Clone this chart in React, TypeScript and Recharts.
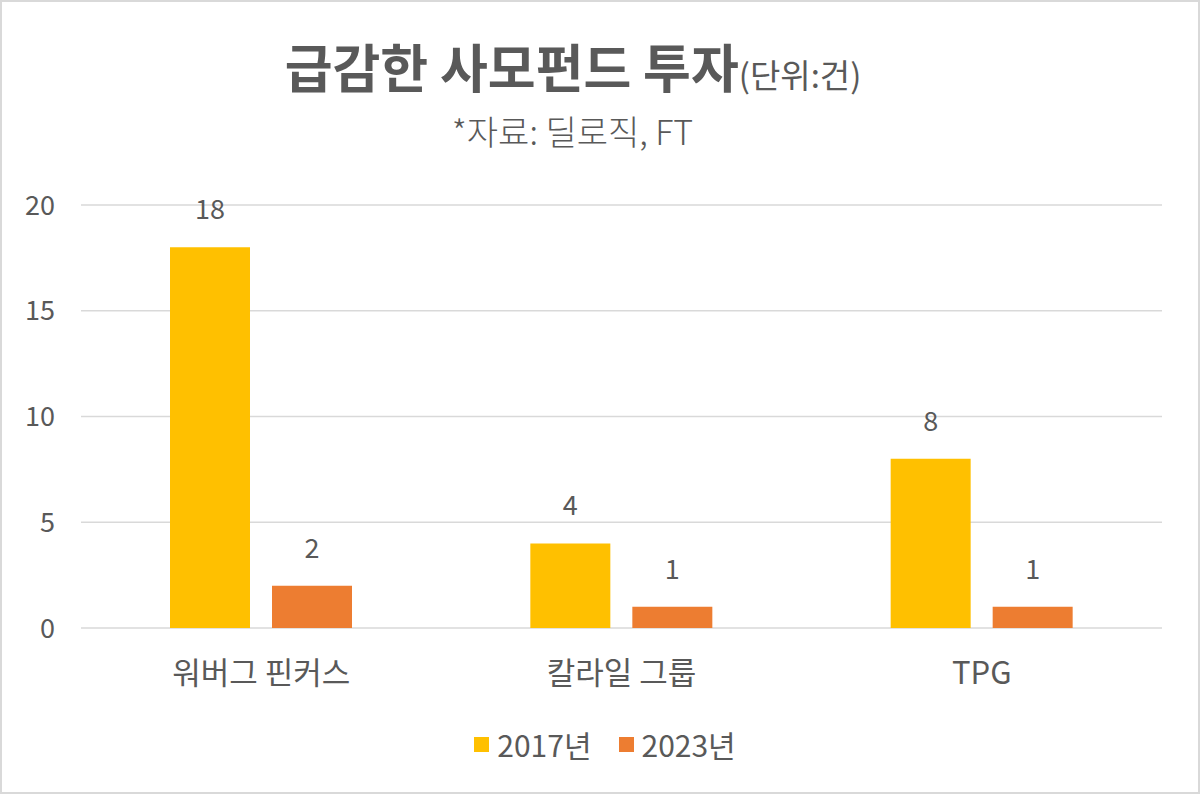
import { Bar, BarChart, CartesianGrid, LabelList, XAxis, YAxis } from "recharts";

const categories = ["워버그 핀커스", "칼라일 그룹", "TPG"];
const deals2017 = [18, 4, 8];
const deals2023 = [2, 1, 1];
const yTicks = [0, 5, 10, 15, 20];

const SERIES = [
  { key: "y2017", name: "2017년", color: "#FFC000" },
  { key: "y2023", name: "2023년", color: "#ED7D31" },
];

const INK = "#595959";
const GRID = "#D9D9D9";
const FONT = '"Noto Sans CJK KR", "Noto Sans", sans-serif';

const data = categories.map((name, i) => ({
  name,
  y2017: deals2017[i],
  y2023: deals2023[i],
}));

function LegendBox() {
  return (
    <div style={{ display: "flex", justifyContent: "center", alignItems: "center", fontFamily: FONT }}>
      {SERIES.map((s, i) => (
        <div key={s.key} style={{ display: "flex", alignItems: "center", marginLeft: i ? 27 : 0 }}>
          <span style={{ width: 15, height: 15, background: s.color, display: "inline-block", marginRight: 8 }} />
          <span style={{ fontSize: 30, color: INK, lineHeight: 1 }}>{s.name}</span>
        </div>
      ))}
    </div>
  );
}

export default function App() {
  return (
    <div style={{ position: "absolute", left: 0, top: 0, width: 1200, height: 794, background: "#fff", fontFamily: FONT }}>
      <div style={{ position: "absolute", left: 0, top: 28, width: 1146, textAlign: "center", color: INK, whiteSpace: "nowrap" }}>
        <span style={{ fontSize: 52, fontWeight: 700 }}>급감한 사모펀드 투자</span>
        <span style={{ fontSize: 33 }}>(단위:건)</span>
      </div>
      <div style={{ position: "absolute", left: 0, top: 106, width: 1145, textAlign: "center", color: INK, fontSize: 34, fontWeight: 300 }}>
        *자료: 딜로직, FT
      </div>
      <div style={{ position: "absolute", left: 0, top: 0 }}>
        <BarChart
          width={1200}
          height={794}
          data={data}
          margin={{ top: 205, right: 38, bottom: 136, left: 21 }}
          barSize={80}
          barGap={22}
        >
          <CartesianGrid vertical={false} stroke={GRID} strokeWidth={1.5} />
          <XAxis
            dataKey="name"
            height={30}
            axisLine={false}
            tickLine={false}
            tickMargin={28}
            tick={{ fontSize: 31, fill: INK, fontFamily: FONT }}
          />
          <YAxis
            width={60}
            domain={[0, 20]}
            ticks={yTicks}
            axisLine={false}
            tickLine={false}
            tickMargin={20}
            tick={{ fontSize: 27, fill: INK, fontFamily: FONT }}
          />
          {SERIES.map((s) => (
            <Bar key={s.key} dataKey={s.key} name={s.name} fill={s.color} isAnimationActive={false}>
              <LabelList
                dataKey={s.key}
                position="top"
                offset={28}
                style={{ fontSize: 27, fill: INK, fontFamily: FONT }}
              />
            </Bar>
          ))}
        </BarChart>
      </div>
      <div style={{ position: "absolute", top: 729, left: 5, width: 1200 }}>
        <LegendBox />
      </div>
      <div
        style={{
          position: "absolute",
          left: 0,
          top: 0,
          width: 1200,
          height: 794,
          boxSizing: "border-box",
          border: `2px solid ${GRID}`,
          pointerEvents: "none",
        }}
      />
    </div>
  );
}
